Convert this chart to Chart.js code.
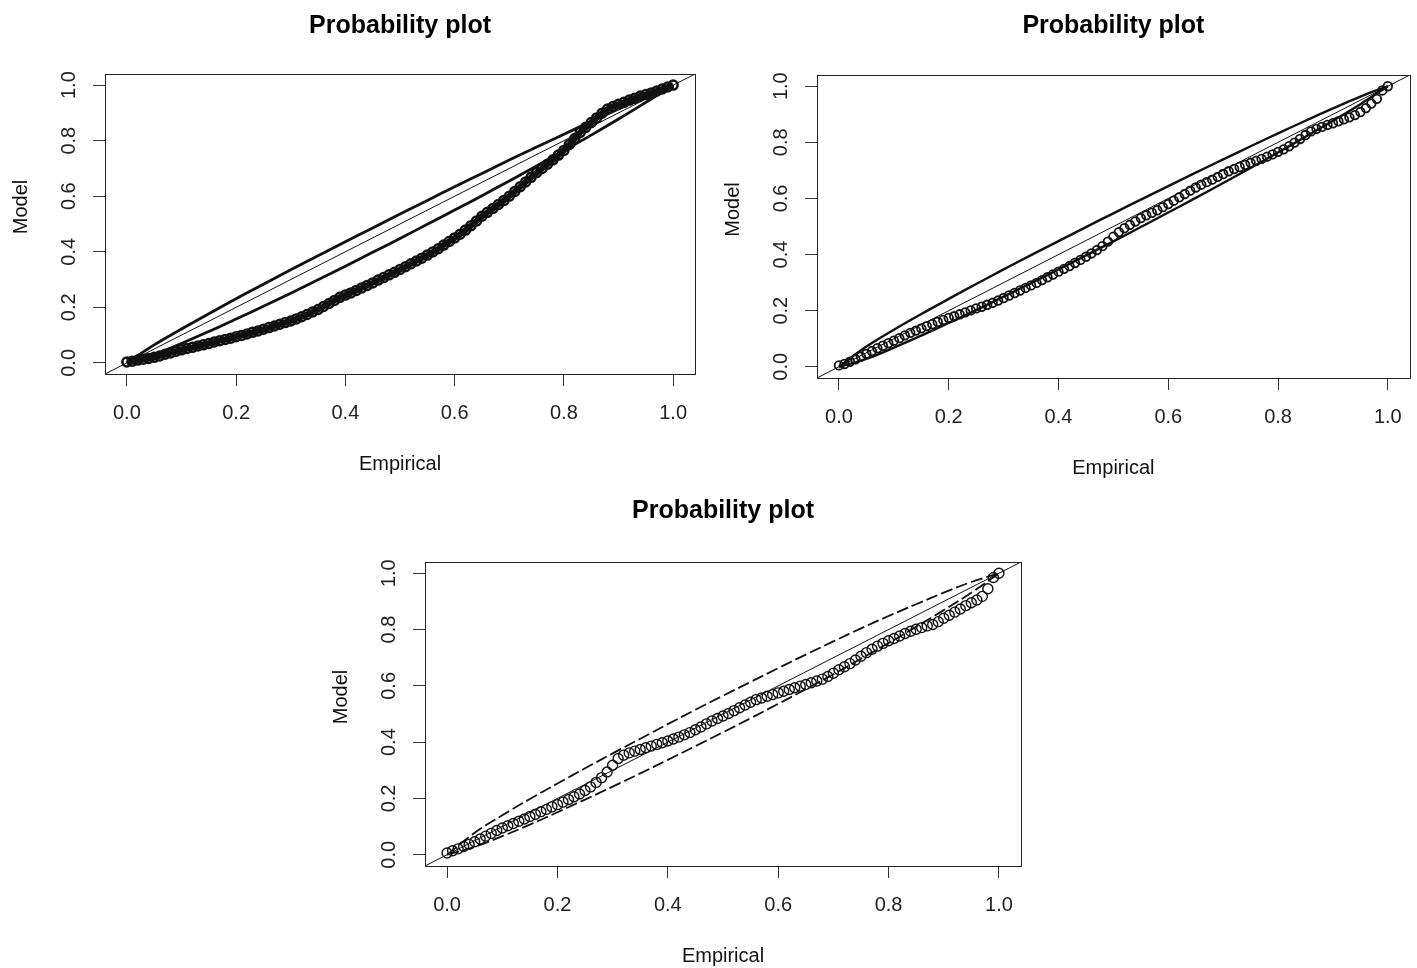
<!DOCTYPE html>
<html>
<head>
<meta charset="utf-8">
<script src="https://cdn.jsdelivr.net/npm/chart.js@4.4.1/dist/chart.umd.min.js"></script>
<style>
  html, body { margin: 0; padding: 0; background: #fff; overflow: hidden; }
  body { width: 1417px; height: 968px; position: relative; }
  .panel { position: absolute; }
</style>
</head>
<body>
<div class="panel" style="left:0px;top:0px;width:705px;height:484px"><canvas id="pp1"></canvas></div>
<div class="panel" style="left:710px;top:0px;width:707px;height:488px"><canvas id="pp2"></canvas></div>
<div class="panel" style="left:310px;top:480px;width:721px;height:496px"><canvas id="pp3"></canvas></div>
<script>
// axis range (R extends 4% each side) and tick values
const axisMin = -0.04;
const axisMax = 1.04;
const tickValues = [0, 0.2, 0.4, 0.6, 0.8, 1.0];

// empirical probabilities (x) shared by the three plots
const empirical = [
  0.00, 0.01, 0.02, 0.03, 0.04, 0.05, 0.06, 0.07, 0.08, 0.09,
  0.10, 0.11, 0.12, 0.13, 0.14, 0.15, 0.16, 0.17, 0.18, 0.19,
  0.20, 0.21, 0.22, 0.23, 0.24, 0.25, 0.26, 0.27, 0.28, 0.29,
  0.30, 0.31, 0.32, 0.33, 0.34, 0.35, 0.36, 0.37, 0.38, 0.39,
  0.40, 0.41, 0.42, 0.43, 0.44, 0.45, 0.46, 0.47, 0.48, 0.49,
  0.50, 0.51, 0.52, 0.53, 0.54, 0.55, 0.56, 0.57, 0.58, 0.59,
  0.60, 0.61, 0.62, 0.63, 0.64, 0.65, 0.66, 0.67, 0.68, 0.69,
  0.70, 0.71, 0.72, 0.73, 0.74, 0.75, 0.76, 0.77, 0.78, 0.79,
  0.80, 0.81, 0.82, 0.83, 0.84, 0.85, 0.86, 0.87, 0.88, 0.89,
  0.90, 0.91, 0.92, 0.93, 0.94, 0.95, 0.96, 0.97, 0.98, 0.99,
  1.00
];

// model probabilities
const model1 = [
  0.003, 0.006, 0.010, 0.013, 0.016, 0.020, 0.025, 0.031, 0.036, 0.042,
  0.047, 0.052, 0.056, 0.061, 0.065, 0.070, 0.075, 0.080, 0.084, 0.089,
  0.094, 0.099, 0.104, 0.110, 0.115, 0.121, 0.127, 0.133, 0.139, 0.145,
  0.151, 0.158, 0.166, 0.174, 0.183, 0.192, 0.203, 0.214, 0.225, 0.236,
  0.244, 0.252, 0.261, 0.270, 0.279, 0.288, 0.298, 0.307, 0.317, 0.326,
  0.336, 0.346, 0.357, 0.367, 0.377, 0.388, 0.399, 0.411, 0.424, 0.437,
  0.450, 0.463, 0.478, 0.494, 0.511, 0.528, 0.542, 0.556, 0.570, 0.585,
  0.600, 0.617, 0.634, 0.651, 0.668, 0.685, 0.700, 0.715, 0.731, 0.748,
  0.765, 0.786, 0.808, 0.830, 0.848, 0.865, 0.882, 0.899, 0.914, 0.923,
  0.931, 0.938, 0.946, 0.953, 0.961, 0.966, 0.972, 0.979, 0.986, 0.993,
  1.000
];
const model2 = [
  0.005, 0.010, 0.018, 0.027, 0.036, 0.046, 0.056, 0.066, 0.075, 0.084,
  0.093, 0.102, 0.112, 0.121, 0.129, 0.137, 0.145, 0.152, 0.160, 0.167,
  0.174, 0.180, 0.187, 0.194, 0.201, 0.208, 0.214, 0.221, 0.228, 0.236,
  0.245, 0.254, 0.263, 0.272, 0.281, 0.290, 0.299, 0.309, 0.319, 0.329,
  0.339, 0.349, 0.359, 0.370, 0.381, 0.392, 0.404, 0.416, 0.430, 0.446,
  0.464, 0.480, 0.494, 0.506, 0.518, 0.530, 0.540, 0.549, 0.558, 0.569,
  0.580, 0.592, 0.604, 0.616, 0.628, 0.639, 0.649, 0.658, 0.667, 0.677,
  0.687, 0.697, 0.705, 0.712, 0.720, 0.727, 0.734, 0.741, 0.749, 0.757,
  0.766, 0.775, 0.786, 0.799, 0.812, 0.826, 0.839, 0.848, 0.855, 0.862,
  0.868, 0.875, 0.882, 0.889, 0.897, 0.908, 0.922, 0.938, 0.955, 0.985,
  1.000
];
const model3 = [
  0.006, 0.014, 0.021, 0.029, 0.037, 0.046, 0.056, 0.066, 0.076, 0.086,
  0.095, 0.103, 0.111, 0.119, 0.127, 0.136, 0.144, 0.153, 0.161, 0.170,
  0.178, 0.187, 0.196, 0.206, 0.216, 0.228, 0.241, 0.257, 0.274, 0.294,
  0.318, 0.342, 0.354, 0.362, 0.368, 0.374, 0.380, 0.386, 0.392, 0.398,
  0.404, 0.411, 0.418, 0.426, 0.434, 0.444, 0.454, 0.465, 0.475, 0.484,
  0.493, 0.502, 0.512, 0.522, 0.532, 0.542, 0.551, 0.557, 0.563, 0.569,
  0.575, 0.581, 0.587, 0.593, 0.599, 0.605, 0.611, 0.617, 0.624, 0.633,
  0.645, 0.657, 0.668, 0.679, 0.692, 0.705, 0.718, 0.730, 0.741, 0.751,
  0.760, 0.768, 0.777, 0.786, 0.794, 0.801, 0.807, 0.813, 0.818, 0.828,
  0.840, 0.851, 0.862, 0.873, 0.885, 0.895, 0.905, 0.918, 0.945, 0.985,
  1.000
];

// confidence band curves, read at these x positions
const bandX = [0, 0.05, 0.10, 0.15, 0.20, 0.25, 0.30, 0.35, 0.40, 0.45, 0.50,
               0.55, 0.60, 0.65, 0.70, 0.75, 0.80, 0.85, 0.90, 0.95, 1.0];
const upper1 = [0, 0.065, 0.122, 0.177, 0.231, 0.283, 0.335, 0.386, 0.436, 0.486, 0.536,
                0.585, 0.634, 0.682, 0.730, 0.777, 0.823, 0.869, 0.914, 0.958, 1.0];
const lower1 = [0, 0.030, 0.070, 0.113, 0.158, 0.204, 0.251, 0.299, 0.348, 0.398, 0.448,
                0.499, 0.550, 0.602, 0.655, 0.709, 0.764, 0.820, 0.878, 0.938, 1.0];
const upper2 = [0, 0.072, 0.132, 0.188, 0.242, 0.295, 0.347, 0.398, 0.448, 0.498, 0.547,
                0.596, 0.644, 0.692, 0.739, 0.786, 0.832, 0.877, 0.921, 0.963, 1.0];
const lower2 = [0, 0.028, 0.068, 0.111, 0.156, 0.202, 0.250, 0.298, 0.347, 0.397, 0.447,
                0.498, 0.550, 0.602, 0.655, 0.709, 0.764, 0.820, 0.877, 0.936, 1.0];
const upper3 = [0, 0.078, 0.140, 0.198, 0.253, 0.307, 0.360, 0.412, 0.464, 0.515, 0.565,
                0.614, 0.663, 0.711, 0.758, 0.804, 0.848, 0.890, 0.931, 0.969, 1.0];
const lower3 = [0, 0.028, 0.066, 0.107, 0.151, 0.196, 0.242, 0.289, 0.337, 0.386, 0.435,
                0.485, 0.536, 0.588, 0.641, 0.696, 0.752, 0.810, 0.869, 0.931, 1.0];

Chart.defaults.font.family = '"Liberation Sans", Arial, sans-serif';

// box around the plot region plus the rotated y label
const framePlugin = {
  id: 'frame',
  afterDraw(chart, args, opts) {
    const ctx = chart.ctx;
    const a = chart.chartArea;
    ctx.save();
    ctx.strokeStyle = '#222';
    ctx.lineWidth = 1;
    ctx.strokeRect(Math.round(a.left) + 0.5, Math.round(a.top) + 0.5,
                   Math.round(a.right - a.left), Math.round(a.bottom - a.top));
    ctx.fillStyle = '#111';
    ctx.font = '20px "Liberation Sans", Arial, sans-serif';
    ctx.textAlign = 'center';
    ctx.textBaseline = 'middle';
    ctx.translate(a.left - 84, (a.top + a.bottom) / 2 - 17);
    ctx.rotate(-Math.PI / 2);
    ctx.fillText(opts.ylab, 0, 0);
    ctx.restore();
  }
};

function makeChart(id, model, upper, lower, look) {
  const pts = empirical.map((x, i) => ({ x: x, y: model[i] }));
  const up = bandX.map((x, i) => ({ x: x, y: upper[i] }));
  const lo = bandX.map((x, i) => ({ x: x, y: lower[i] }));
  const diag = [{ x: axisMin, y: axisMin }, { x: axisMax, y: axisMax }];

  const axis = (fit) => ({
    min: axisMin,
    max: axisMax,
    afterBuildTicks: s => { s.ticks = tickValues.map(v => ({ value: v })); },
    afterFit: fit,
    border: { display: false },
    grid: { drawOnChartArea: false, drawTicks: true, tickLength: 12, color: '#333' }
  });

  const xAxis = axis(s => { s.height = 110; });
  xAxis.ticks = { padding: 15, color: '#222', font: { size: 20 }, maxRotation: 0,
                  callback: v => Number(v).toFixed(1) };
  xAxis.title = { display: true, text: 'Empirical', color: '#111', font: { size: 20 },
                  padding: { top: 0, bottom: 8 } };

  const yAxis = axis(s => { s.width = look.yWidth; });
  yAxis.ticks = { padding: 10, color: '#222', font: { size: 20 }, crossAlign: 'center',
                  minRotation: 90, maxRotation: 90, callback: v => Number(v).toFixed(1) };

  const band = (data) => ({
    data: data, showLine: true, borderColor: '#111', borderWidth: look.band,
    borderDash: look.dash, pointRadius: 0, tension: 0.4
  });

  return new Chart(document.getElementById(id), {
    type: 'scatter',
    data: {
      datasets: [
        {
          label: 'Model',
          data: pts,
          showLine: look.join > 0,
          borderWidth: look.join,
          borderColor: '#111',
          pointRadius: look.radius,
          pointBorderWidth: look.ring,
          pointBorderColor: '#111',
          pointBackgroundColor: 'rgba(0,0,0,0)'
        },
        band(up),
        band(lo),
        { data: diag, showLine: true, borderColor: '#111', borderWidth: 1, pointRadius: 0 }
      ]
    },
    options: {
      animation: false,
      responsive: true,
      maintainAspectRatio: false,
      events: [],
      layout: { padding: { left: 0, right: look.padRight, top: 0, bottom: 0 } },
      plugins: {
        legend: { display: false },
        tooltip: { enabled: false },
        title: {
          display: true,
          text: 'Probability plot',
          fullSize: false,
          color: '#000',
          font: { size: 25, weight: 'bold' },
          padding: { top: look.titleTop, bottom: look.titleBottom }
        },
        frame: { ylab: 'Model' }
      },
      scales: { x: xAxis, y: yAxis }
    },
    plugins: [framePlugin]
  });
}

makeChart('pp1', model1, upper1, lower1,
  { yWidth: 105, padRight: 10, titleTop: 11, titleBottom: 33, radius: 4.5, ring: 2.5, join: 6, band: 2.8, dash: [] });
makeChart('pp2', model2, upper2, lower2,
  { yWidth: 107, padRight: 5, titleTop: 11, titleBottom: 34, radius: 4.3, ring: 1.8, join: 0, band: 2.4, dash: [] });
makeChart('pp3', model3, upper3, lower3,
  { yWidth: 115, padRight: 10, titleTop: 16, titleBottom: 36, radius: 5, ring: 1.4, join: 0, band: 1.8, dash: [12, 4] });
</script>
</body>
</html>
